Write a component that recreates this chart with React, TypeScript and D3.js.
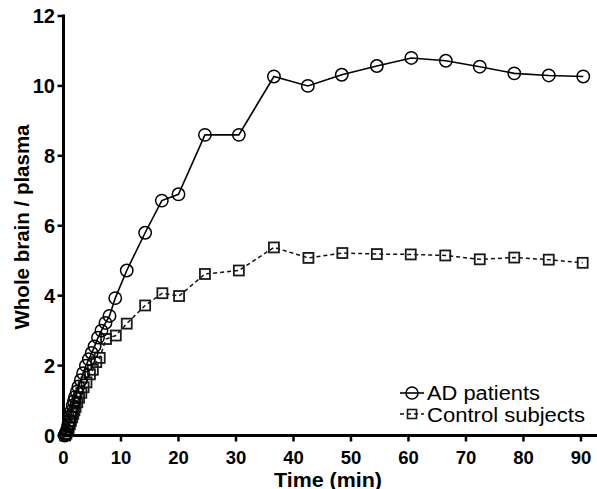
import React from "react";
import * as d3 from "d3";

const adTime = [0.2,0.4,0.6,0.8,1.0,1.2,1.4,1.6,1.8,2.0,2.3,2.6,3.0,3.4,3.9,4.4,4.9,5.4,6.0,6.6,7.3,8.0,9.0,11.0,14.2,17.1,20.0,24.6,30.5,36.6,42.5,48.4,54.5,60.5,66.5,72.4,78.4,84.4,90.4];
const adValue = [0.0,0.05,0.15,0.28,0.42,0.55,0.7,0.85,0.98,1.1,1.25,1.4,1.58,1.78,2.0,2.18,2.36,2.55,2.8,3.0,3.22,3.42,3.93,4.72,5.8,6.72,6.9,8.6,8.6,10.27,10.0,10.32,10.57,10.8,10.72,10.55,10.36,10.3,10.27];

const ctlTime = [0.3,0.5,0.7,0.9,1.1,1.3,1.5,1.7,1.9,2.1,2.4,2.7,3.1,3.5,4.0,4.6,5.1,5.7,6.3,7.4,9.1,11.0,14.2,17.2,20.1,24.6,30.5,36.6,42.6,48.5,54.5,60.4,66.4,72.4,78.4,84.4,90.3];
const ctlValue = [0.0,0.05,0.12,0.22,0.32,0.42,0.52,0.62,0.72,0.82,0.95,1.08,1.22,1.38,1.52,1.75,1.88,2.1,2.22,2.76,2.86,3.2,3.72,4.07,3.99,4.62,4.72,5.38,5.08,5.22,5.19,5.18,5.15,5.04,5.09,5.03,4.94];

const xTicks = [0,10,20,30,40,50,60,70,80,90];
const yTicks = [0,2,4,6,8,10,12];
const seriesNames = ["AD patients", "Control subjects"];
const xTitle = "Time (min)";
const yTitle = "Whole brain / plasma";

export default function App() {
  const W = 597, H = 489;
  const x = d3.scaleLinear().domain([0, 93]).range([63.5, 598.2]);
  const y = d3.scaleLinear().domain([0, 12]).range([435.5, 16]);
  const font = "Liberation Sans, Arial, Helvetica, sans-serif";

  const ad = adTime.map((t, i) => [t, adValue[i]] as [number, number]);
  const ctl = ctlTime.map((t, i) => [t, ctlValue[i]] as [number, number]);
  const line = d3.line<[number, number]>().x(d => x(d[0])).y(d => y(d[1]));

  const sq = 10;
  return (
    <svg width={W} height={H} style={{ position: "absolute", left: 0, top: 0, background: "#fff" }} fontFamily={font}>
      {/* axes */}
      <line x1={x(0)} x2={x(0)} y1={y(12) - 1.5} y2={y(0)} stroke="#000" strokeWidth={3} />
      <line x1={x(0) - 5} x2={W} y1={y(0)} y2={y(0)} stroke="#000" strokeWidth={3} />
      {yTicks.map(t => (
        <g key={"y" + t}>
          <line x1={x(0) - 6} x2={x(0)} y1={y(t)} y2={y(t)} stroke="#000" strokeWidth={2.5} />
          <text x={55} y={y(t)} dy="0.36em" textAnchor="end" fontWeight="bold" fontSize={20}>{t}</text>
        </g>
      ))}
      {xTicks.map(t => (
        <g key={"x" + t}>
          <line x1={x(t)} x2={x(t)} y1={y(0)} y2={y(0) + 6} stroke="#000" strokeWidth={2.5} />
          <text x={x(t)} y={464} textAnchor="middle" fontWeight="bold" fontSize={18.5}>{t}</text>
        </g>
      ))}
      <text x={328} y={486.5} textAnchor="middle" fontWeight="bold" fontSize={19.5} textLength={108} lengthAdjust="spacingAndGlyphs">{xTitle}</text>
      <text transform={`translate(29,227) rotate(-90)`} textAnchor="middle" fontWeight="bold" fontSize={20.5}>{yTitle}</text>

      {/* control series */}
      <path d={line(ctl) || ""} fill="none" stroke="#111" strokeWidth={1.5} strokeDasharray="4,3" />
      {ctl.map((d, i) => (
        <rect key={"c" + i} x={x(d[0]) - sq / 2} y={y(d[1]) - sq / 2} width={sq} height={sq} fill="none" stroke="#1a1a1a" strokeWidth={1.8} />
      ))}
      {/* AD series */}
      <path d={line(ad) || ""} fill="none" stroke="#000" strokeWidth={1.6} />
      {ad.map((d, i) => (
        <circle key={"a" + i} cx={x(d[0])} cy={y(d[1])} r={6.2} fill="none" stroke="#000" strokeWidth={1.5} />
      ))}

      {/* legend */}
      <line x1={400} x2={424} y1={393} y2={393} stroke="#000" strokeWidth={1.6} />
      <circle cx={412} cy={393} r={6} fill="none" stroke="#000" strokeWidth={1.5} />
      <text x={427} y={399.5} fontSize={19.5} textLength={113} lengthAdjust="spacingAndGlyphs">{seriesNames[0]}</text>
      <line x1={400} x2={424} y1={414} y2={414} stroke="#111" strokeWidth={1.5} strokeDasharray="4,3" />
      <rect x={407.5} y={409.5} width={9} height={9} fill="none" stroke="#1a1a1a" strokeWidth={1.6} />
      <text x={427} y={422} fontSize={19.5} textLength={158} lengthAdjust="spacingAndGlyphs">{seriesNames[1]}</text>
    </svg>
  );
}
